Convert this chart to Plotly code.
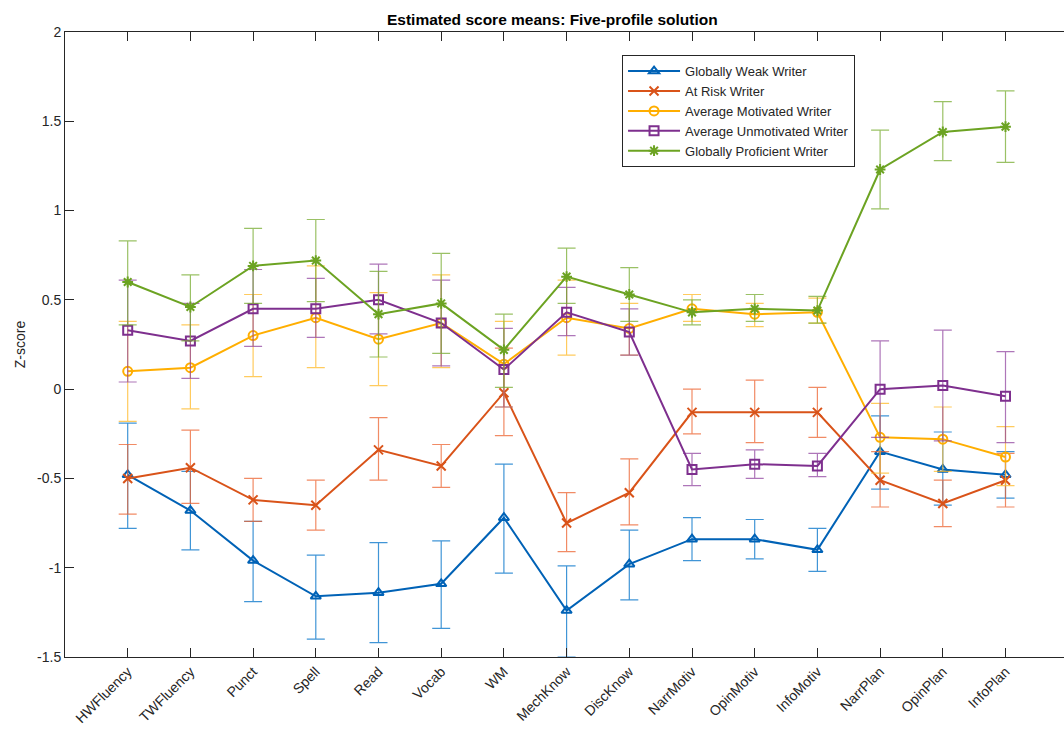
import plotly.graph_objects as go

# Measures on the x axis
measures = ["HWFluency", "TWFluency", "Punct", "Spell", "Read", "Vocab", "WM",
            "MechKnow", "DiscKnow", "NarrMotiv", "OpinMotiv", "InfoMotiv",
            "NarrPlan", "OpinPlan", "InfoPlan"]
x_pos = list(range(1, len(measures) + 1))

# Profile means and confidence bounds (upper / lower)
weak_mean = [-0.48, -0.68, -0.96, -1.16, -1.14, -1.09, -0.72, -1.24, -0.98, -0.84, -0.84, -0.90, -0.35, -0.45, -0.48]
weak_hi   = [-0.19, -0.46, -0.74, -0.93, -0.86, -0.85, -0.42, -0.99, -0.79, -0.72, -0.73, -0.78, -0.15, -0.24, -0.35]
weak_lo   = [-0.78, -0.90, -1.19, -1.40, -1.42, -1.34, -1.03, -1.50, -1.18, -0.96, -0.95, -1.02, -0.56, -0.65, -0.61]

risk_mean = [-0.50, -0.44, -0.62, -0.65, -0.34, -0.43, -0.02, -0.75, -0.58, -0.13, -0.13, -0.13, -0.51, -0.64, -0.51]
risk_hi   = [-0.31, -0.23, -0.50, -0.51, -0.16, -0.31, 0.23, -0.58, -0.39, 0.00, 0.05, 0.01, -0.35, -0.51, -0.36]
risk_lo   = [-0.70, -0.64, -0.74, -0.79, -0.51, -0.55, -0.26, -0.91, -0.76, -0.25, -0.30, -0.27, -0.66, -0.77, -0.66]

motiv_mean = [0.10, 0.12, 0.30, 0.40, 0.28, 0.37, 0.14, 0.40, 0.34, 0.45, 0.42, 0.43, -0.27, -0.28, -0.38]
motiv_hi   = [0.38, 0.36, 0.53, 0.69, 0.54, 0.64, 0.38, 0.61, 0.48, 0.53, 0.48, 0.51, -0.08, -0.10, -0.21]
motiv_lo   = [-0.18, -0.11, 0.07, 0.12, 0.02, 0.12, -0.10, 0.19, 0.19, 0.38, 0.35, 0.37, -0.47, -0.46, -0.54]

unmot_mean = [0.33, 0.27, 0.45, 0.45, 0.50, 0.37, 0.11, 0.43, 0.32, -0.45, -0.42, -0.43, 0.00, 0.02, -0.04]
unmot_hi   = [0.61, 0.48, 0.67, 0.62, 0.70, 0.61, 0.34, 0.57, 0.45, -0.36, -0.34, -0.36, 0.27, 0.33, 0.21]
unmot_lo   = [0.04, 0.06, 0.24, 0.29, 0.31, 0.13, -0.10, 0.30, 0.19, -0.54, -0.50, -0.49, -0.27, -0.29, -0.30]

prof_mean = [0.60, 0.46, 0.69, 0.72, 0.42, 0.48, 0.22, 0.63, 0.53, 0.43, 0.45, 0.44, 1.23, 1.44, 1.47]
prof_hi   = [0.83, 0.64, 0.90, 0.95, 0.66, 0.76, 0.42, 0.79, 0.68, 0.50, 0.53, 0.52, 1.45, 1.61, 1.67]
prof_lo   = [0.36, 0.27, 0.48, 0.49, 0.18, 0.20, 0.01, 0.48, 0.38, 0.36, 0.38, 0.37, 1.01, 1.28, 1.27]

profiles = [
    ("Globally Weak Writer", weak_mean, weak_hi, weak_lo, "#0062B6", "rgba(0,114,200,0.75)", "triangle-up-open"),
    ("At Risk Writer", risk_mean, risk_hi, risk_lo, "#D95319", "rgba(236,100,50,0.75)", "x-thin-open"),
    ("Average Motivated Writer", motiv_mean, motiv_hi, motiv_lo, "#FFAE00", "rgba(255,185,40,0.75)", "circle-open"),
    ("Average Unmotivated Writer", unmot_mean, unmot_hi, unmot_lo, "#7E2F8E", "rgba(140,60,155,0.7)", "square-open"),
    ("Globally Proficient Writer", prof_mean, prof_hi, prof_lo, "#6CA322", "rgba(120,172,50,0.75)", "asterisk-open"),
]

FONT = "Liberation Sans, Arial, sans-serif"
AXIS_COLOR = "#262626"

fig = go.Figure()
for name, mean, hi, lo, color, ecolor, symbol in profiles:
    fig.add_trace(go.Scatter(
        x=x_pos, y=mean, name=name, mode="lines+markers",
        line=dict(color=color, width=2),
        marker=dict(symbol=symbol, size=9, color=color, line=dict(color=color, width=2)),
        error_y=dict(type="data", symmetric=False,
                     array=[h - m for h, m in zip(hi, mean)],
                     arrayminus=[m - l for m, l in zip(mean, lo)],
                     color=ecolor, thickness=1.2, width=9),
    ))

fig.update_layout(
    width=1064, height=734,
    margin=dict(l=65, r=0, t=32, b=77),
    paper_bgcolor="white", plot_bgcolor="white",
    font=dict(family=FONT, size=14, color=AXIS_COLOR),
    showlegend=True,
    legend=dict(x=0.5576, y=0.963, xanchor="left", yanchor="top",
                bgcolor="white", bordercolor="#262626", borderwidth=1,
                font=dict(size=13, color="#262626"), tracegroupgap=0,
                itemwidth=52),
    annotations=[dict(text="<b>Estimated score means: Five-profile solution</b>",
                      xref="paper", yref="paper", x=(552 - 65) / 999, y=1.0,
                      xanchor="center", yanchor="bottom", yshift=2, showarrow=False,
                      font=dict(size=15.5, color="black"))],
)

fig.update_xaxes(
    range=[0, 999 / 62.7], tickmode="array", tickvals=x_pos, ticktext=measures,
    tickangle=-45, ticks="inside", ticklen=9, tickcolor=AXIS_COLOR,
    showline=True, linecolor=AXIS_COLOR, linewidth=1, mirror="ticks",
    showgrid=False, zeroline=False, tickfont=dict(size=14, color=AXIS_COLOR),
)
fig.update_yaxes(
    range=[-1.5, 2], tickmode="array",
    tickvals=[-1.5, -1, -0.5, 0, 0.5, 1, 1.5, 2],
    ticktext=["-1.5", "-1", "-0.5", "0", "0.5", "1", "1.5", "2"],
    ticks="inside", ticklen=9, tickcolor=AXIS_COLOR,
    showline=True, linecolor=AXIS_COLOR, linewidth=1,
    showgrid=False, zeroline=False, tickfont=dict(size=14, color=AXIS_COLOR),
    title=dict(text="Z-score", font=dict(size=14, color=AXIS_COLOR), standoff=8),
)

fig.write_html("out.html")
